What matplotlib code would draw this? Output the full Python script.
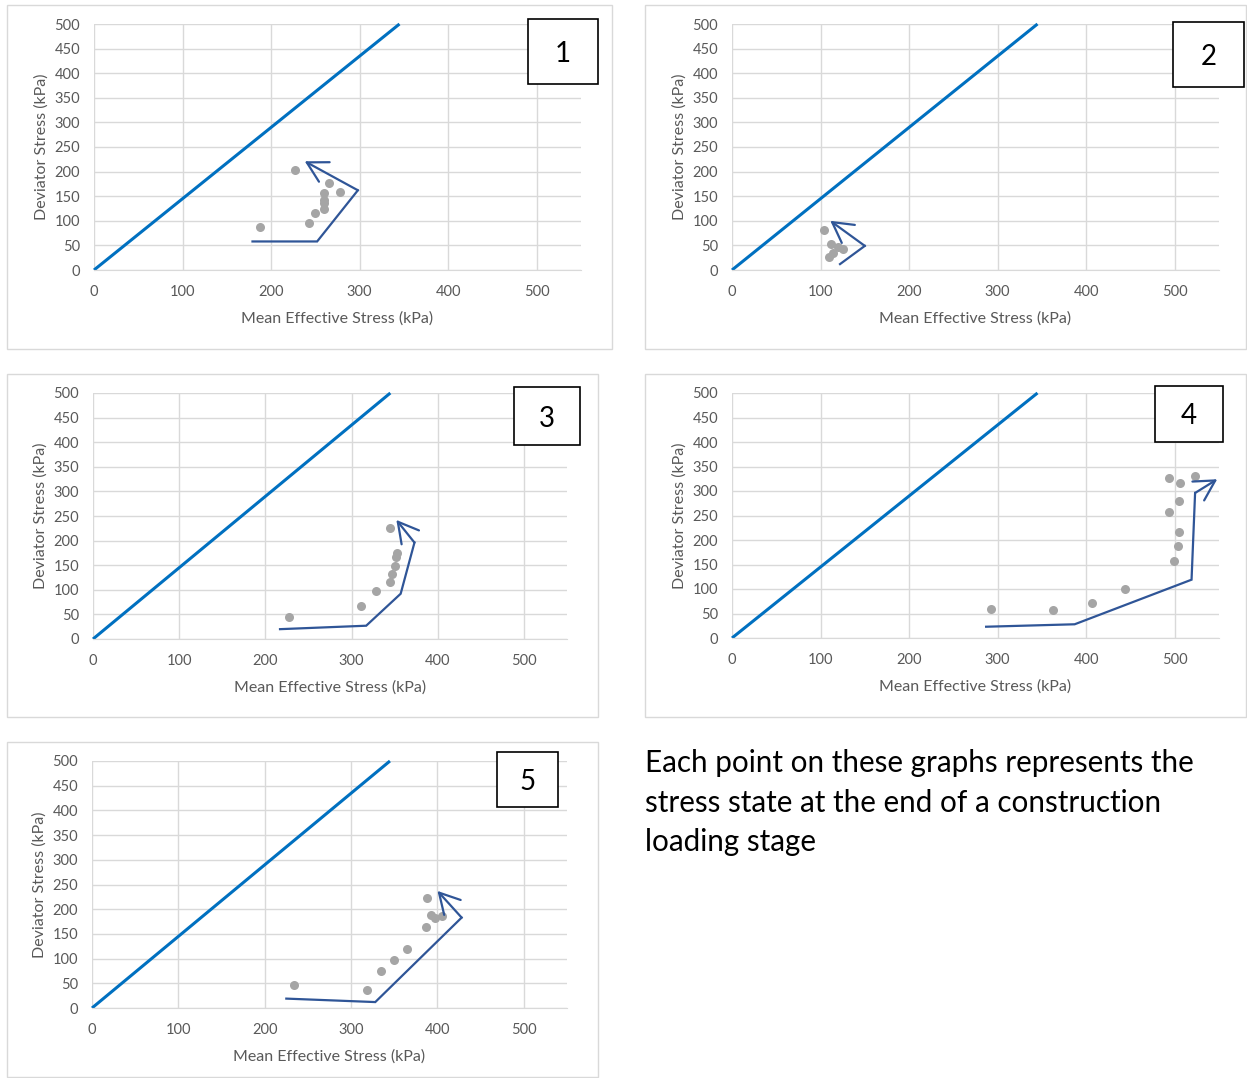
"""Stress paths at the end of construction loading stages, five panels."""

import matplotlib

matplotlib.use("Agg")
from matplotlib import pyplot as plt
from matplotlib.patches import Rectangle

W, H = 1247, 1078

# critical state line, same on every panel
csl_p = [0, 345]
csl_q = [0, 500]

# panel 1
p1_p = [188, 227, 265, 278, 260, 260, 260, 260, 250, 243]
p1_q = [88, 203, 176, 159, 157, 143, 136, 124, 116, 95]
p1_path_p = [179, 252, 298, 238]
p1_path_q = [58, 58, 162, 221]

# panel 2
p2_p = [104, 112, 120, 125, 114, 110]
p2_q = [81, 53, 47, 42, 34, 27]
p2_path_p = [122, 150, 111]
p2_path_q = [12, 49, 100]

# panel 3
p3_p = [227, 311, 328, 345, 347, 351, 352, 353, 345]
p3_q = [45, 68, 98, 115, 133, 149, 167, 175, 225]
p3_path_p = [217, 317, 357, 373, 352]
p3_path_q = [20, 27, 92, 196, 242]

# panel 4
p4_p = [293, 362, 407, 444, 499, 504, 505, 494, 505, 494, 506, 523]
p4_q = [59, 57, 72, 99, 157, 187, 217, 258, 279, 327, 316, 330]
p4_path_p = [287, 387, 519, 523, 548]
p4_path_q = [23, 28, 119, 296, 324]

# panel 5
p5_p = [234, 318, 335, 350, 365, 387, 393, 397, 405, 388]
p5_q = [47, 37, 75, 97, 120, 164, 189, 182, 187, 222]
p5_path_p = [225, 328, 428, 400]
p5_path_q = [19, 12, 183, 237]

labels = ["1", "2", "3", "4", "5"]
note = ("Each point on these graphs represents the\n"
        "stress state at the end of a construction\n"
        "loading stage")

FONT = ["Lato", "DejaVu Sans"]
plt.rcParams["font.family"] = FONT

# pixel boxes: axes (l, t, r, b), panel frame, number box
AXES_PX = [
    (94, 24, 581, 270),
    (732, 24, 1219, 270),
    (93, 393, 567, 639),
    (732, 393, 1219, 638),
    (92, 761, 567, 1008),
]
FRAME_PX = [
    (7, 5, 612, 349),
    (645, 5, 1246, 349),
    (7, 374, 598, 717),
    (645, 374, 1246, 717),
    (7, 742, 598, 1077),
]
NUM_PX = [
    (528, 19, 598, 84),
    (1173, 22, 1244, 87),
    (514, 387, 580, 445),
    (1155, 386, 1223, 442),
    (497, 752, 558, 807),
]


def fig_rect(l, t, r, b):
    return [l / W, 1 - b / H, (r - l) / W, (b - t) / H]


def draw_panel(fig, box, pts_p, pts_q, path_p, path_q):
    ax = fig.add_axes(fig_rect(*box))
    ax.set_xlim(0, 550)
    ax.set_ylim(0, 500)
    ax.set_xticks(range(0, 501, 100))
    ax.set_yticks(range(0, 501, 50))
    ax.grid(True, color="#d9d9d9", linewidth=1.0)
    ax.set_axisbelow(True)
    for side in ("top", "right", "left"):
        ax.spines[side].set_visible(False)
    ax.spines["bottom"].set_color("#d9d9d9")
    ax.tick_params(length=0, labelsize=10.5, labelcolor="#595959")
    ax.tick_params(axis="x", pad=10.5)
    ax.tick_params(axis="y", pad=10)
    ax.set_xlabel("Mean Effective Stress (kPa)", fontsize=11.5,
                  color="#595959", labelpad=9)
    ax.set_ylabel("Deviator Stress (kPa)", fontsize=11.5,
                  color="#595959", labelpad=4)

    ax.plot(csl_p, csl_q, color="#0070c0", linewidth=2.2,
            solid_capstyle="butt", clip_on=False)
    ax.plot(pts_p, pts_q, "o", color="#a5a5a5", markersize=6.5,
            markeredgewidth=0)
    ax.plot(path_p[:-1], path_q[:-1], color="#2f5597", linewidth=1.6,
            solid_joinstyle="miter")
    ax.annotate("", xy=(path_p[-1], path_q[-1]),
                xytext=(path_p[-2], path_q[-2]),
                arrowprops=dict(arrowstyle="->,head_length=0.9,head_width=0.5",
                                color="#2f5597", linewidth=1.6,
                                mutation_scale=16, shrinkA=0, shrinkB=0))
    return ax


fig = plt.figure(figsize=(W / 100, H / 100), dpi=100)

for l, t, r, b in FRAME_PX:
    fig.patches.append(Rectangle((l / W, 1 - b / H), (r - l) / W, (b - t) / H,
                                 transform=fig.transFigure, fill=False,
                                 edgecolor="#d9d9d9", linewidth=1.0))

panels = [
    (p1_p, p1_q, p1_path_p, p1_path_q),
    (p2_p, p2_q, p2_path_p, p2_path_q),
    (p3_p, p3_q, p3_path_p, p3_path_q),
    (p4_p, p4_q, p4_path_p, p4_path_q),
    (p5_p, p5_q, p5_path_p, p5_path_q),
]
for box, data in zip(AXES_PX, panels):
    draw_panel(fig, box, *data)

for (l, t, r, b), label in zip(NUM_PX, labels):
    fig.patches.append(Rectangle((l / W, 1 - b / H), (r - l) / W, (b - t) / H,
                                 transform=fig.transFigure, facecolor="white",
                                 edgecolor="black", linewidth=1.2, zorder=5))
    fig.text((l + r) / 2 / W, 1 - (t + b) / 2 / H, label, fontsize=20,
             ha="center", va="center_baseline", zorder=6)

fig.text(645 / W, 1 - 749 / H, note, fontsize=21.3, ha="left", va="top",
         linespacing=1.5, color="black")

fig.savefig("out.png", dpi=100)
